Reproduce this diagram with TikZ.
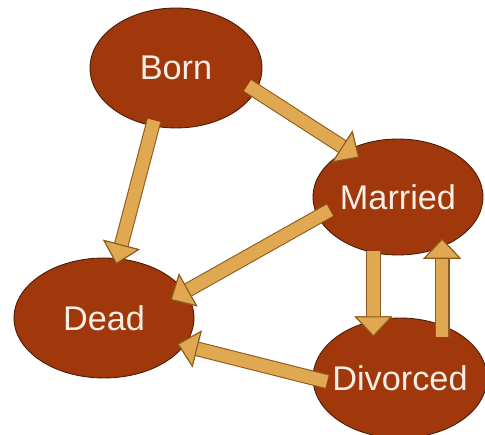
\documentclass[tikz,border=0pt]{standalone}
\usepackage{fontspec}
\setmainfont{Liberation Sans}
\usetikzlibrary{positioning, arrows.meta, calc, shapes.geometric}
\definecolor{rust}{HTML}{A0380C}
\definecolor{rustedge}{HTML}{4A1A05}
\definecolor{straw}{HTML}{E0A850}
\definecolor{strawedge}{HTML}{8C5A1E}
\definecolor{chalk}{HTML}{F8EEE6}

\begin{document}
\begin{tikzpicture}[x=0.02cm, y=-0.02cm,
    state/.style={ellipse, fill=rust, draw=rustedge, line width=0.5pt, inner xsep=-12pt, inner ysep=0pt,
      text=chalk, font=\fontsize{19.5}{23}\selectfont},
    fat/.style={draw=straw, line width=7.2pt,
      -{Triangle[width=21.5pt, length=11.5pt, line width=0.6pt, color=strawedge, fill=straw]},
      preaction={draw=strawedge, line width=8.4pt, -{Triangle[width=21.5pt, length=11.5pt, line width=0.6pt]}}}]
        \useasboundingbox (0,0) rectangle (485,435);
        % the four states
        \node[state, minimum width=3.44cm, minimum height=2.4cm] (born) at (176,68) {Born};
        \node[state, minimum width=3.4cm, minimum height=2.32cm] (married) at (398,197) {Married};
        \node[state, minimum width=3.6cm, minimum height=2.4cm] (dead) at (104,318) {Dead};
        \node[state, minimum width=3.48cm, minimum height=2.4cm] (divorced) at (400,378) {Divorced};
        \coordinate (m1) at ([xshift=-14pt]married.south);
        \coordinate (d1) at ([xshift=24pt]divorced.north);
        % transitions
        \draw[fat, shorten <=-3.4pt, shorten >=-3.4pt] (born.-112) -- (dead.77);
        \draw[fat, shorten <=-5.7pt, shorten >=-7.9pt] (born.-16) -- (married.137);
        \draw[fat, shorten <=-7.9pt, shorten >=-9.6pt] (married.-166) -- (dead.18);
        \draw[fat, shorten <=-2.8pt, shorten >=-10.8pt] (m1) -- (m1 |- divorced.north);
        \draw[fat, shorten <=-10.8pt, shorten >=-9.6pt] (d1) -- (d1 |- married.south);
        \draw[fat, shorten <=-8.5pt, shorten >=-4pt] (divorced.180) -- (dead.-19);
      \end{tikzpicture}
\end{document}
